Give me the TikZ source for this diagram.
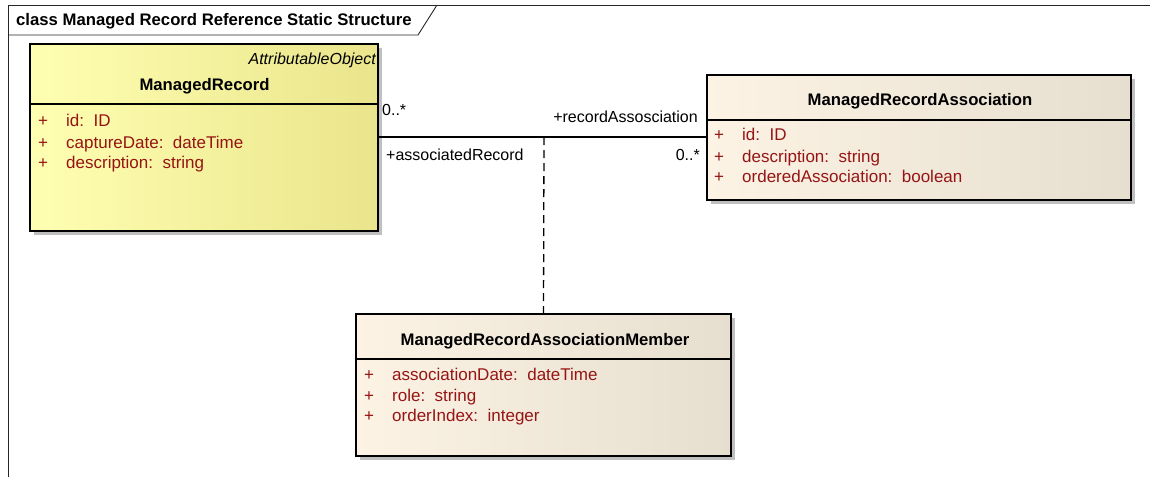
\documentclass[tikz,border=0pt]{standalone}
\usepackage{fontspec}
\setmainfont{Liberation Sans}
\usetikzlibrary{shadows}

\definecolor{attrred}{RGB}{150,20,20}
\definecolor{recyellowL}{RGB}{255,255,178}
\definecolor{recyellowR}{RGB}{234,229,140}
\definecolor{assoccreamL}{RGB}{252,243,228}
\definecolor{assoccreamR}{RGB}{230,222,207}

\begin{document}
\begin{tikzpicture}[x=1pt,y=-1pt,
   classbox/.style={draw=black, line width=1.2pt, inner sep=0pt,
      drop shadow={shadow xshift=4pt, shadow yshift=-4pt, fill=black!25, opacity=1}},
   yellowbox/.style={classbox, left color=recyellowL, right color=recyellowR},
   creambox/.style={classbox, left color=assoccreamL, right color=assoccreamR},
   classname/.style={anchor=base, inner sep=0pt, font=\fontsize{16.7}{19}\selectfont\bfseries},
   attr/.style={anchor=base west, inner sep=0pt, text=attrred, font=\fontsize{17}{20}\selectfont},
   vis/.style={anchor=base, inner sep=0pt, text=attrred, font=\fontsize{17}{20}\selectfont},
   rolelabel/.style={inner sep=0pt, font=\fontsize{16}{19}\selectfont}]
   \useasboundingbox (0,0) rectangle (1150,477);

   % diagram frame and title tab
   \draw [black!85,line width=0.9pt]
      (8,477) -- (8,5) -- (1150,5);
   \draw [black!85,line width=0.9pt]
      (8,35) -- (418,35) -- (437,5);
   \node [anchor=base west,inner sep=0pt,font=\fontsize{16.7}{19}\selectfont\bfseries]
      (frametitle) at (16,25.5) {class Managed Record Reference Static Structure};

   % ManagedRecord
   \node [yellowbox,minimum width=348pt,minimum height=187pt] (rec) at (204,137.5) {};
   \draw [line width=1.2pt] (rec.west |- 0,104) -- (rec.east |- 0,104);
   \node [anchor=base east,inner sep=0pt,font=\fontsize{16}{19}\selectfont\itshape]
      (recstereo) at (376,64.5) {AttributableObject};
   \node [classname] (recname) at (204.5,90.5) {ManagedRecord};
   \node [vis] (recp1) at (43,126.7) {+};
   \node [attr] (reca1) at (66,126.7) {id:\ \ ID};
   \node [vis] (recp2) at (43,148) {+};
   \node [attr] (reca2) at (66,148) {captureDate:\ \ dateTime};
   \node [vis] (recp3) at (43,168.7) {+};
   \node [attr] (reca3) at (66,168.7) {description:\ \ string};

   % ManagedRecordAssociation
   \node [creambox,minimum width=424pt,minimum height=125pt] (assoc) at (919,137.5) {};
   \draw [line width=1.2pt] (assoc.west |- 0,120) -- (assoc.east |- 0,120);
   \node [classname] (assocname) at (920,105.7) {ManagedRecordAssociation};
   \node [vis] (assocp1) at (719,140) {+};
   \node [attr] (assoca1) at (742,140) {id:\ \ ID};
   \node [vis] (assocp2) at (719,162.3) {+};
   \node [attr] (assoca2) at (742,162.3) {description:\ \ string};
   \node [vis] (assocp3) at (719,182.7) {+};
   \node [attr] (assoca3) at (742,182.7) {orderedAssociation:\ \ boolean};

   % ManagedRecordAssociationMember
   \node [creambox,minimum width=375pt,minimum height=142pt] (member) at (543.5,385) {};
   \draw [line width=1.2pt] (member.west |- 0,359) -- (member.east |- 0,359);
   \node [classname] (membername) at (545,345.7) {ManagedRecordAssociationMember};
   \node [vis] (memberp1) at (369,380) {+};
   \node [attr] (membera1) at (392,380) {associationDate:\ \ dateTime};
   \node [vis] (memberp2) at (369,401) {+};
   \node [attr] (membera2) at (392,401) {role:\ \ string};
   \node [vis] (memberp3) at (369,421.7) {+};
   \node [attr] (membera3) at (392,421.7) {orderIndex:\ \ integer};

   % association and association class link
   \coordinate (link) at (544,137);
   \draw [line width=1.2pt]
      (rec.east |- link) -- (assoc.west |- link);
   \draw [line width=1.3pt,dash pattern=on 8pt off 5pt]
      (link) -- (member.north);

   \node [rolelabel,anchor=base west] (recmult) at (382,115) {0..*};
   \node [rolelabel,anchor=base west] (recrole) at (386,160) {+associatedRecord};
   \node [rolelabel,anchor=base east] (assocrole) at (698,122.7) {+recordAssosciation};
   \node [rolelabel,anchor=base east] (assocmult) at (700,160) {0..*};
\end{tikzpicture}
\end{document}
